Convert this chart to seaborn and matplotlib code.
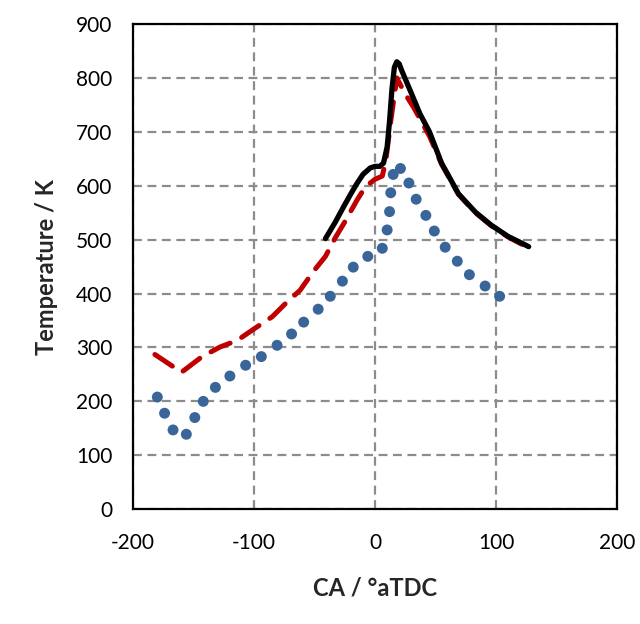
import seaborn as sns
import matplotlib.pyplot as plt
import pandas as pd

# blue dotted series (individual dots)
dot_ca = [-180, -174, -167, -156, -149, -142, -132, -120, -107, -94, -81, -69, -59, -47, -37,
          -27, -18, -6, 6, 10, 12, 13, 15, 21, 28, 34, 42, 49, 58, 68, 78, 91, 103]
dot_temp = [208, 178, 147, 139, 170, 200, 226, 247, 267, 283, 304, 325, 347, 371, 395,
            423, 449, 469, 484, 518, 552, 587, 621, 632, 605, 575, 545, 516, 486, 460, 435, 414, 395]

# red dashed series
dash_ca = [-182, -160, -143, -128, -114, -99, -85, -72, -62, -51, -41, -33, -25, -15, -8,
           0, 6, 9, 13, 18, 25, 32, 45, 55, 69, 83, 96, 110, 120, 127]
dash_temp = [287, 254, 283, 301, 313, 336, 357, 386, 406, 441, 469, 503, 533, 573, 598,
             612, 618, 648, 720, 800, 770, 745, 692, 640, 584, 550, 526, 505, 493, 486]

# black solid series
solid_ca = [-41, -33, -26, -20, -15, -10, -4, 0, 4, 7, 10, 12, 14, 16, 18, 20, 22, 29, 37,
            45, 55, 69, 83, 96, 110, 120, 127]
solid_temp = [502, 532, 561, 585, 604, 621, 633, 636, 636, 642, 672, 720, 780, 820, 830, 826,
              814, 777, 734, 700, 642, 585, 551, 527, 506, 495, 487]

dots = pd.DataFrame({"ca": dot_ca, "temp": dot_temp})
dashed = pd.DataFrame({"ca": dash_ca, "temp": dash_temp})
solid = pd.DataFrame({"ca": solid_ca, "temp": solid_temp})

sns.set_style("white")
plt.rcParams['font.family'] = ['Lato', 'DejaVu Sans']
plt.rcParams['axes.unicode_minus'] = False

fig = plt.figure(figsize=(6.4, 6.24), dpi=100)
ax = fig.add_axes([0.208, 0.184, 0.756, 0.7775])

sns.scatterplot(data=dots, x="ca", y="temp", ax=ax, color="#3A6599", s=62,
                edgecolor="none", zorder=3)
sns.lineplot(data=dashed, x="ca", y="temp", ax=ax, color="#C00000", linewidth=3.6,
             sort=False, estimator=None, zorder=4)
ax.lines[-1].set_linestyle((0, (4.2, 2.6)))
ax.lines[-1].set_dash_capstyle("round")
ax.lines[-1].set_dash_joinstyle("round")
sns.lineplot(data=solid, x="ca", y="temp", ax=ax, color="black", linewidth=3.8,
             sort=False, estimator=None, zorder=5)
ax.lines[-1].set_solid_joinstyle("round")
ax.lines[-1].set_solid_capstyle("round")

ax.set_xlim(-200, 200)
ax.set_ylim(0, 900)
ax.set_xticks(range(-200, 201, 100))
ax.set_yticks(range(0, 901, 100))
ax.grid(True, color="#8C8C8C", linewidth=1.6, linestyle=(0, (4, 2.5)))
for s in ax.spines.values():
    s.set_color("black")
    s.set_linewidth(1.6)
ax.tick_params(axis="both", direction="out", length=6, width=1.6, color="black",
               labelsize=15, labelcolor="black")
ax.tick_params(axis="x", pad=11)
ax.tick_params(axis="y", pad=9)

ax.set_xlabel("CA / °aTDC", fontsize=17, fontweight="bold", labelpad=17)
ax.set_ylabel("Temperature / K", fontsize=17, fontweight="bold", labelpad=13)

fig.savefig("out.png", dpi=100)
